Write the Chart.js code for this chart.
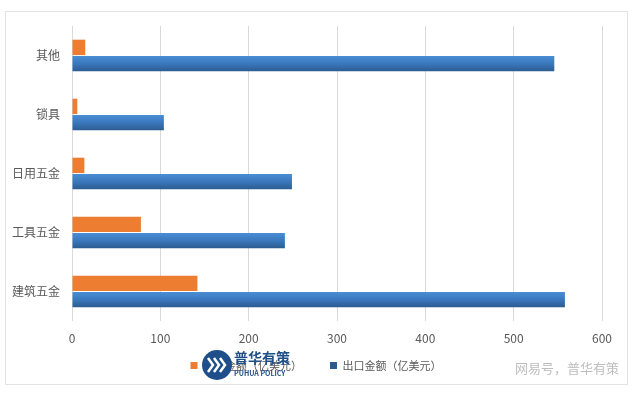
<!DOCTYPE html>
<html>
<head>
<meta charset="utf-8">
<script src="https://cdn.jsdelivr.net/npm/chart.js@4"></script>
<style>
  html, body { margin: 0; padding: 0; background: #fff; }
  #wrap { width: 636px; height: 398px; }
</style>
</head>
<body>
<div id="wrap"><canvas id="chart" width="636" height="398"></canvas></div>
<script>
const categories = ["其他", "锁具", "日用五金", "工具五金", "建筑五金"];
const importValues = [15, 6, 14, 78, 142];
const exportValues = [546, 104, 249, 241, 558];
const xTicks = [0, 100, 200, 300, 400, 500, 600];

const FONT = "'Noto Sans CJK SC', 'Noto Sans', sans-serif";

// blue bars get a top-to-bottom shade like the office chart style
const blueShade = (ctx) => {
    const chart = ctx.chart;
    const ys = chart.scales.y;
    if (!ys || ctx.type !== "data") return "#3b78bd";
    const c = ys.getPixelForValue(ctx.dataIndex);
    if (!isFinite(c)) return "#3b78bd";
    const g = chart.ctx.createLinearGradient(0, c, 0, c + 16);
    g.addColorStop(0, "#4b8fd6");
    g.addColorStop(0.5, "#3a78bd");
    g.addColorStop(1, "#2c5b8f");
    return g;
};

const framePlugin = {
    id: "frame",
    afterLayout(chart) {
        // nudge legend: centre it on the page and lift it a bit
        const lg = chart.legend;
        lg.left += 15; lg.right += 15;
        lg.top -= 13; lg.bottom -= 13;
    },
    beforeDraw(chart) {
        const c = chart.ctx;
        c.save();
        c.fillStyle = "#fff";
        c.fillRect(0, 0, chart.width, chart.height);
        c.strokeStyle = "#e3e3e3";
        c.lineWidth = 1;
        c.strokeRect(5.5, 11.5, 622, 373);
        c.restore();
    },
    afterDraw(chart) {
        const c = chart.ctx;
        c.save();
        // watermark logo over the legend
        c.fillStyle = "#1f4f8a";
        c.beginPath();
        c.arc(217, 365, 15, 0, Math.PI * 2);
        c.fill();
        c.strokeStyle = "#fff";
        c.lineWidth = 2.5;
        for (let i = 0; i < 3; i++) {
            c.beginPath();
            c.moveTo(208 + i * 6, 358);
            c.lineTo(213 + i * 6, 365);
            c.lineTo(208 + i * 6, 372);
            c.stroke();
        }
        c.fillStyle = "#1f4f8a";
        c.font = "bold 14px " + FONT;
        c.textBaseline = "middle";
        c.fillText("普华有策", 234, 358);
        c.font = "bold 7px " + FONT;
        c.fillText("PUHUA POLICY", 234, 373);
        c.fillStyle = "#bdbdbd";
        c.font = "13px " + FONT;
        c.textAlign = "right";
        c.fillText("网易号，普华有策", 619, 368);
        c.restore();
    }
};

new Chart(document.getElementById("chart"), {
    type: "bar",
    data: {
        labels: categories,
        datasets: [
            {
                label: "进口金额（亿美元）",
                data: importValues,
                backgroundColor: "#ed7d31",
                categoryPercentage: 0.55,
                barPercentage: 0.95
            },
            {
                label: "出口金额（亿美元）",
                data: exportValues,
                backgroundColor: blueShade,
                categoryPercentage: 0.55,
                barPercentage: 0.95
            }
        ]
    },
    options: {
        indexAxis: "y",
        responsive: false,
        animation: false,
        layout: { padding: { top: 26, right: 34, left: 0, bottom: 4 } },
        scales: {
            x: {
                min: 0,
                max: 600,
                afterBuildTicks: (s) => { s.ticks = xTicks.map(v => ({ value: v })); },
                grid: { color: "#d9d9d9", drawTicks: false },
                border: { display: false },
                ticks: { color: "#595959", font: { family: FONT, size: 12 }, padding: 10 },
                afterFit: (s) => { s.height = 24; }
            },
            y: {
                grid: { display: false, drawTicks: false },
                border: { display: false },
                ticks: { color: "#595959", font: { family: FONT, size: 12 }, padding: 12 },
                afterFit: (s) => { s.width = 72; }
            }
        },
        plugins: {
            legend: {
                position: "bottom",
                labels: {
                    color: "#595959",
                    font: { family: FONT, size: 11 },
                    boxWidth: 7,
                    boxHeight: 7,
                    padding: 28
                }
            },
            tooltip: { enabled: false }
        }
    },
    plugins: [framePlugin]
});
</script>
</body>
</html>
